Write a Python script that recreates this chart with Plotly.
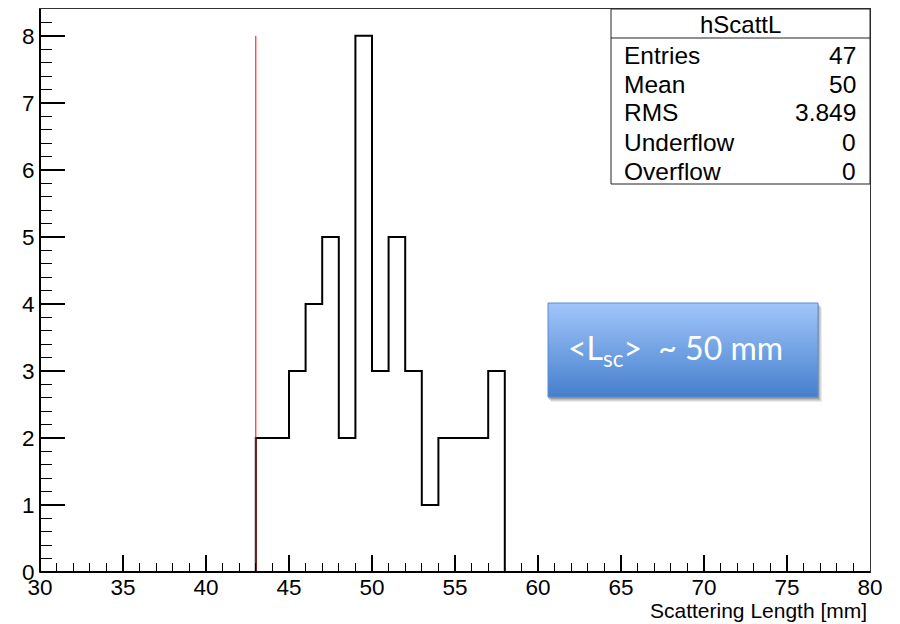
import plotly.graph_objects as go

# ---- data ----
bin_edges = [43, 44, 45, 46, 47, 48, 49, 50, 51, 52, 53, 54, 55, 56, 57, 58]
counts = [2, 2, 3, 4, 5, 2, 8, 3, 5, 3, 1, 2, 2, 2, 3]
marker_x = 43
marker_y = [0, 8]
x_range = [30, 80]
y_range = [0, 8.4]
x_ticks = [30, 35, 40, 45, 50, 55, 60, 65, 70, 75, 80]
y_ticks = [0, 1, 2, 3, 4, 5, 6, 7, 8]
stat_title = "hScattL"
stat_labels = ["Entries", "Mean", "RMS", "Underflow", "Overflow"]
stat_values = ["47", "50", "3.849", "0", "0"]
x_title = "Scattering Length [mm]"
note_text = "&lt;L<sub>sc</sub>&gt;  ~ 50 mm"

W, H = 900, 624
L, R, T, B = 40, 870, 9, 572
FONT = "Liberation Sans"


def px(x):
    return (x - L) / (R - L)


def py(y):
    return (B - y) / (B - T)


# step outline points
sx = [bin_edges[0]] + bin_edges[:-1] + [bin_edges[-1]]
sy = [0] + counts + [0]

fig = go.Figure()
fig.add_trace(go.Scatter(x=sx, y=sy, mode="lines", line=dict(color="black", width=2, shape="hv"),
                         hoverinfo="skip", showlegend=False))
fig.add_trace(go.Scatter(x=[marker_x, marker_x], y=marker_y, mode="lines",
                         line=dict(color="red", width=1), hoverinfo="skip", showlegend=False))

shapes = []
annotations = []

# thicker left/bottom frame lines
shapes.append(dict(type="line", xref="paper", yref="paper", x0=0, x1=0, y0=0, y1=1,
                   line=dict(color="black", width=2), layer="above"))
shapes.append(dict(type="line", xref="paper", yref="paper", x0=0, x1=1, y0=0, y1=0,
                   line=dict(color="black", width=2), layer="above"))

# stat box
bx0, bx1, by0, by1, sep = 611, 870, 9, 184, 38
shapes.append(dict(type="rect", xref="paper", yref="paper", x0=px(bx0), x1=px(bx1), y0=py(by1), y1=py(by0),
                   fillcolor="white", line=dict(color="#222", width=1), layer="above"))
shapes.append(dict(type="line", xref="paper", yref="paper", x0=px(bx0), x1=px(bx1), y0=py(sep), y1=py(sep),
                   line=dict(color="#222", width=1), layer="above"))
annotations.append(dict(text=stat_title, xref="paper", yref="paper", x=px((bx0 + bx1) / 2), y=py(25),
                        xanchor="center", yanchor="middle", showarrow=False, font=dict(family=FONT, size=24, color="black")))
for i, (lab, val) in enumerate(zip(stat_labels, stat_values)):
    yc = 55 + i * 29
    annotations.append(dict(text=lab, xref="paper", yref="paper", x=px(622), y=py(yc), xanchor="left",
                            yanchor="middle", showarrow=False, font=dict(family=FONT, size=24.5, color="black")))
    annotations.append(dict(text=val, xref="paper", yref="paper", x=px(858), y=py(yc), xanchor="right",
                            yanchor="middle", showarrow=False, font=dict(family=FONT, size=24.5, color="black")))

# x title
annotations.append(dict(text=x_title, xref="paper", yref="paper", x=px(869), y=py(610), xanchor="right",
                        yanchor="middle", showarrow=False, font=dict(family=FONT, size=21, color="black")))

# blue note box with shadow and gradient
nx0, nx1, ny0, ny1 = 548, 818, 303, 397
for k, op in enumerate([0.08, 0.09, 0.11, 0.14]):
    off = 4 - k
    shapes.append(dict(type="rect", xref="paper", yref="paper", x0=px(nx0 + off - 1), x1=px(nx1 + off),
                       y0=py(ny1 + off + 1), y1=py(ny0 + off), fillcolor=f"rgba(0,0,0,{op})",
                       line=dict(width=0), layer="above"))
top_c = (160, 197, 250)
bot_c = (70, 128, 205)
n = 47
for i in range(n):
    t = i / (n - 1)
    c = tuple(int(round(top_c[j] + (bot_c[j] - top_c[j]) * t)) for j in range(3))
    y0p = ny0 + (ny1 - ny0) * i / n
    y1p = ny0 + (ny1 - ny0) * (i + 1) / n
    shapes.append(dict(type="rect", xref="paper", yref="paper", x0=px(nx0), x1=px(nx1), y0=py(y1p + 0.3),
                       y1=py(y0p), fillcolor=f"rgb{c}", line=dict(width=0), layer="above"))
shapes.append(dict(type="rect", xref="paper", yref="paper", x0=px(nx0), x1=px(nx1), y0=py(ny1), y1=py(ny0),
                   fillcolor="rgba(0,0,0,0)", line=dict(color="rgb(90,140,210)", width=1), layer="above"))
annotations.append(dict(text=note_text, xref="paper", yref="paper", x=px(566), y=py(350), xanchor="left",
                        yanchor="middle", showarrow=False, font=dict(family="Lato", size=32, color="white")))

fig.update_layout(
    width=W, height=H,
    margin=dict(l=L, r=W - R, t=T, b=H - B, pad=0),
    paper_bgcolor="white", plot_bgcolor="white",
    shapes=shapes, annotations=annotations,
    font=dict(family=FONT, size=22, color="black"),
    xaxis=dict(range=x_range, tickvals=x_ticks, ticks="inside", ticklen=17, tickwidth=1.5, tickcolor="black",
               minor=dict(ticks="inside", ticklen=9, dtick=1, tickcolor="black", tickwidth=1.2),
               showline=True, linecolor="#333", linewidth=1, mirror=True, showgrid=False, zeroline=False,
               ticklabelstandoff=-5, tickfont=dict(family=FONT, size=22.5)),
    yaxis=dict(range=y_range, tickvals=y_ticks, ticks="inside", ticklen=25, tickwidth=1.5, tickcolor="black",
               minor=dict(ticks="inside", ticklen=12, dtick=0.2, tickcolor="black", tickwidth=1.2),
               showline=True, linecolor="#333", linewidth=1, mirror=True, showgrid=False, zeroline=False,
               tickfont=dict(family=FONT, size=22.5)),
)

fig.write_html("out.html")
